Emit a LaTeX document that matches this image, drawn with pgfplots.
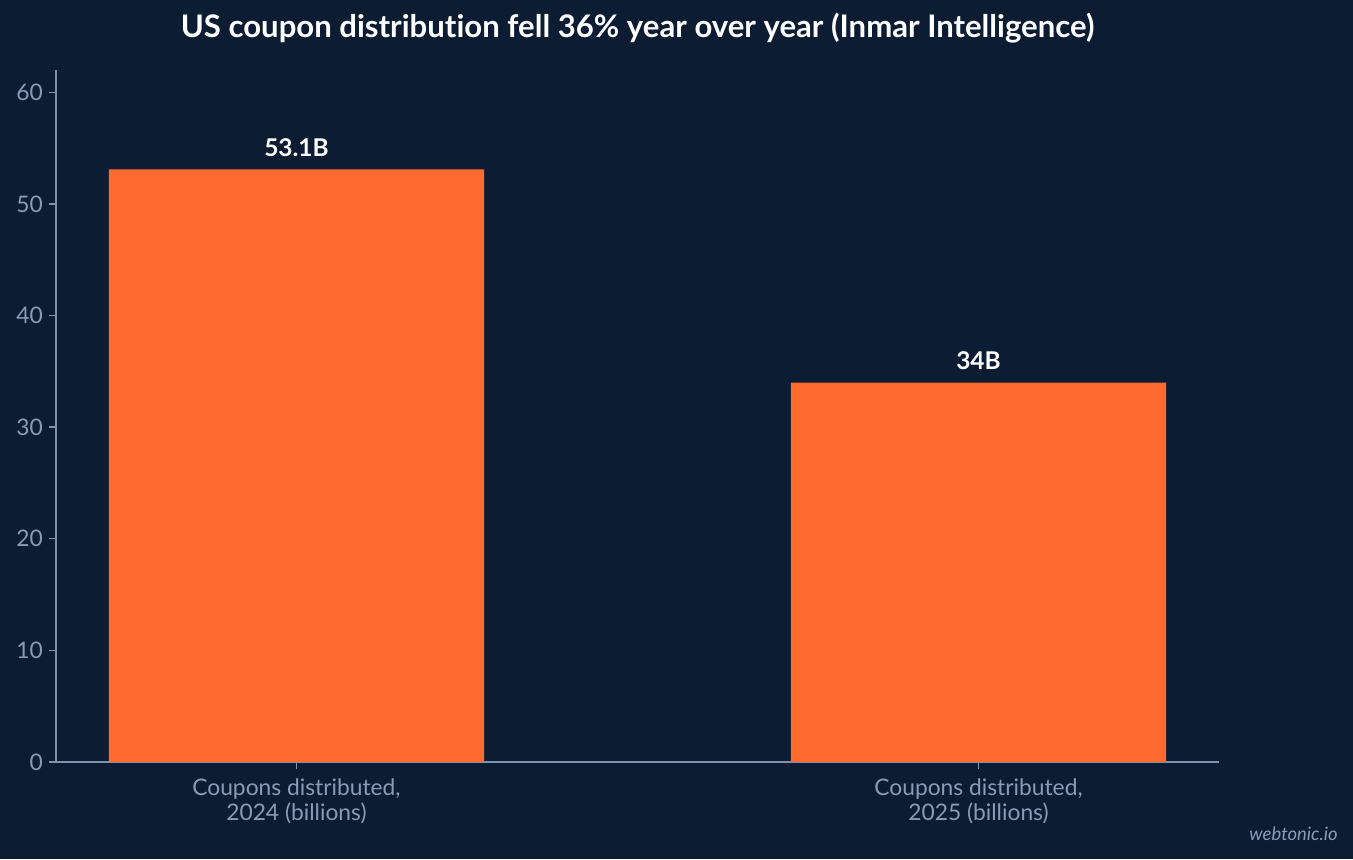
\documentclass[border=0pt]{standalone}
\usepackage{pgfplots}
\pgfplotsset{compat=1.18}
\usepackage{fontspec}
\setmainfont{Lato}[Ligatures=NoCommon]
\definecolor{bg}{HTML}{0B1C33}
\definecolor{barc}{HTML}{FF6B2E}
\definecolor{axc}{HTML}{8092AC}
\definecolor{lab}{HTML}{8B9BB4}
\begin{document}
\begin{tikzpicture}[x=0.72pt,y=0.72pt]
\fill[bg] (0,0) rectangle (1353,859);
\useasboundingbox (0,0) rectangle (1353,859);
\begin{axis}[
  at={(40.32pt,69.84pt)}, anchor=south west,
  scale only axis, width=837.36pt, height=498.24pt,
  xmin=-0.3526, xmax=1.3526, ymin=0, ymax=62,
  axis lines*=left,
  axis line style={axc, line width=1pt},
  tick style={axc, line width=1pt},
  major tick length=5pt, tick align=outside,
  ytick={0,10,...,60},
  xtick={0,1},
  xticklabels={{Coupons distributed,\\2024 (billions)},{Coupons distributed,\\2025 (billions)}},
  xticklabel style={lab, font=\fontsize{16.4}{18}\selectfont, align=center, yshift=-3.6pt},
  yticklabel style={lab, font=\fontsize{16.4}{18}\selectfont, xshift=-1pt},
  /pgf/number format/assume math mode=true,
  ybar, bar width=0.55,
  nodes near coords,
  point meta=explicit symbolic,
  every node near coord/.append style={white, font=\bfseries\fontsize{17.6}{20}\selectfont, yshift=5.6pt},
]
\addplot[fill=barc, draw=none] coordinates {(0,53.1)[53.1B] (1,34)[34B]};
\end{axis}
\node[anchor=base, white, font=\bfseries\fontsize{22.4}{26}\selectfont] at (637.5,821)
  {US coupon distribution fell 36\% year over year (Inmar Intelligence)};
\node[anchor=base east, lab, font=\itshape\fontsize{13.3}{15}\selectfont, inner sep=0pt] at (1338,19) {webtonic.io};
\end{tikzpicture}
\end{document}
